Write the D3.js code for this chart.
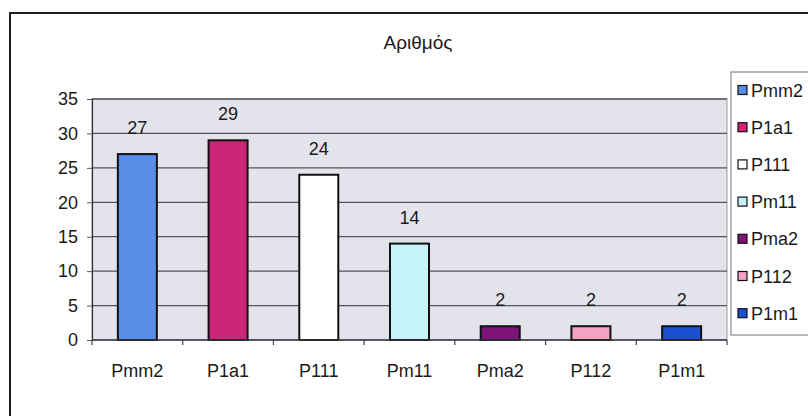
<!DOCTYPE html>
<html>
<head>
<meta charset="utf-8">
<script src="https://cdn.jsdelivr.net/npm/d3@7"></script>
<style>
  html, body { margin: 0; padding: 0; background: #fff; }
  svg { display: block; font-family: "Liberation Sans", Arial, sans-serif; }
</style>
</head>
<body>
<svg id="chart" width="808" height="416"></svg>
<script>
const title = "Αριθμός";
const categories = ["Pmm2", "P1a1", "P111", "Pm11", "Pma2", "P112", "P1m1"];
const values = [27, 29, 24, 14, 2, 2, 2];
const colors = ["#5a8ee6", "#cc2478", "#ffffff", "#c6f2fa", "#7e1478", "#f4a2c2", "#1b4fd2"];
const yTicks = [0, 5, 10, 15, 20, 25, 30, 35];

const svg = d3.select("#chart");
const W = 808, H = 416;

// white chart area with outer border (right/bottom beyond frame)
svg.append("rect").attr("x", 0).attr("y", 0).attr("width", W).attr("height", H).attr("fill", "#fff");
svg.append("path")
  .attr("d", `M10,${H + 5} L10,13 L${W + 5},13`)
  .attr("fill", "none").attr("stroke", "#1e1e1e").attr("stroke-width", 2);

const plot = { left: 92, right: 727, top: 99, bottom: 340 };

const x = d3.scaleBand().domain(categories)
  .range([plot.left, plot.right]).paddingInner(0.57).paddingOuter(0.285);
const y = d3.scaleLinear().domain([0, 35]).range([plot.bottom, plot.top]);

// plot area background
svg.append("rect")
  .attr("x", plot.left).attr("y", plot.top)
  .attr("width", plot.right - plot.left).attr("height", plot.bottom - plot.top)
  .attr("fill", "#e3e3eb").attr("stroke", "#9a9aa2").attr("stroke-width", 1);

// gridlines
svg.append("g").selectAll("line").data(yTicks.filter(d => d > 0)).join("line")
  .attr("x1", plot.left).attr("x2", plot.right)
  .attr("y1", d => y(d)).attr("y2", d => y(d))
  .attr("stroke", "#55555d").attr("stroke-width", 1.3);

// y axis
const yAxis = d3.axisLeft(y).tickValues(yTicks).tickSize(5).tickPadding(9);
const gy = svg.append("g").attr("transform", `translate(${plot.left},0)`).call(yAxis);
gy.select(".domain").attr("stroke", "#333").attr("stroke-width", 1.2);
gy.selectAll(".tick line").attr("stroke", "#555");
gy.selectAll(".tick text").attr("font-size", 18).attr("fill", "#1a1a1a")
  .attr("font-family", "'Liberation Sans', Arial, sans-serif");

// bars
svg.append("g").selectAll("rect").data(categories).join("rect")
  .attr("x", d => x(d)).attr("width", x.bandwidth())
  .attr("y", (d, i) => y(values[i]))
  .attr("height", (d, i) => y(0) - y(values[i]))
  .attr("fill", (d, i) => colors[i])
  .attr("stroke", "#111").attr("stroke-width", 2);

// x axis with ticks at band boundaries
svg.append("line")
  .attr("x1", plot.left).attr("x2", plot.right)
  .attr("y1", plot.bottom).attr("y2", plot.bottom)
  .attr("stroke", "#333").attr("stroke-width", 1.5);
const boundaries = d3.range(categories.length + 1).map(i => plot.left + i * x.step());
svg.append("g").selectAll("line").data(boundaries).join("line")
  .attr("x1", d => d).attr("x2", d => d)
  .attr("y1", plot.bottom).attr("y2", plot.bottom + 5)
  .attr("stroke", "#444").attr("stroke-width", 1.2);

// category labels
svg.append("g").selectAll("text").data(categories).join("text")
  .attr("x", d => x(d) + x.bandwidth() / 2).attr("y", 377)
  .attr("text-anchor", "middle").attr("font-size", 18).attr("fill", "#1a1a1a")
  .text(d => d);

// value labels
svg.append("g").selectAll("text").data(categories).join("text")
  .attr("x", d => x(d) + x.bandwidth() / 2)
  .attr("y", (d, i) => y(values[i]) - 20)
  .attr("text-anchor", "middle").attr("font-size", 18).attr("fill", "#1a1a1a")
  .text((d, i) => values[i]);

// title
svg.append("text").attr("x", 418).attr("y", 49)
  .attr("text-anchor", "middle").attr("font-size", 19).attr("fill", "#1a1a1a")
  .text(title);

// legend
const leg = svg.append("g");
leg.append("rect").attr("x", 731).attr("y", 72).attr("width", 90).attr("height", 263)
  .attr("fill", "#fff").attr("stroke", "#8a8a90").attr("stroke-width", 1.2);
const item = leg.selectAll("g.item").data(categories).join("g").attr("class", "item")
  .attr("transform", (d, i) => `translate(0,${90 + i * 37.2})`);
item.append("rect").attr("x", 738).attr("y", -4.5).attr("width", 9).attr("height", 9)
  .attr("fill", (d, i) => colors[i]).attr("stroke", "#111").attr("stroke-width", 1.2);
item.append("text").attr("x", 751).attr("y", 6.5)
  .attr("font-size", 18).attr("fill", "#1a1a1a")
  .text(d => d);
</script>
</body>
</html>
